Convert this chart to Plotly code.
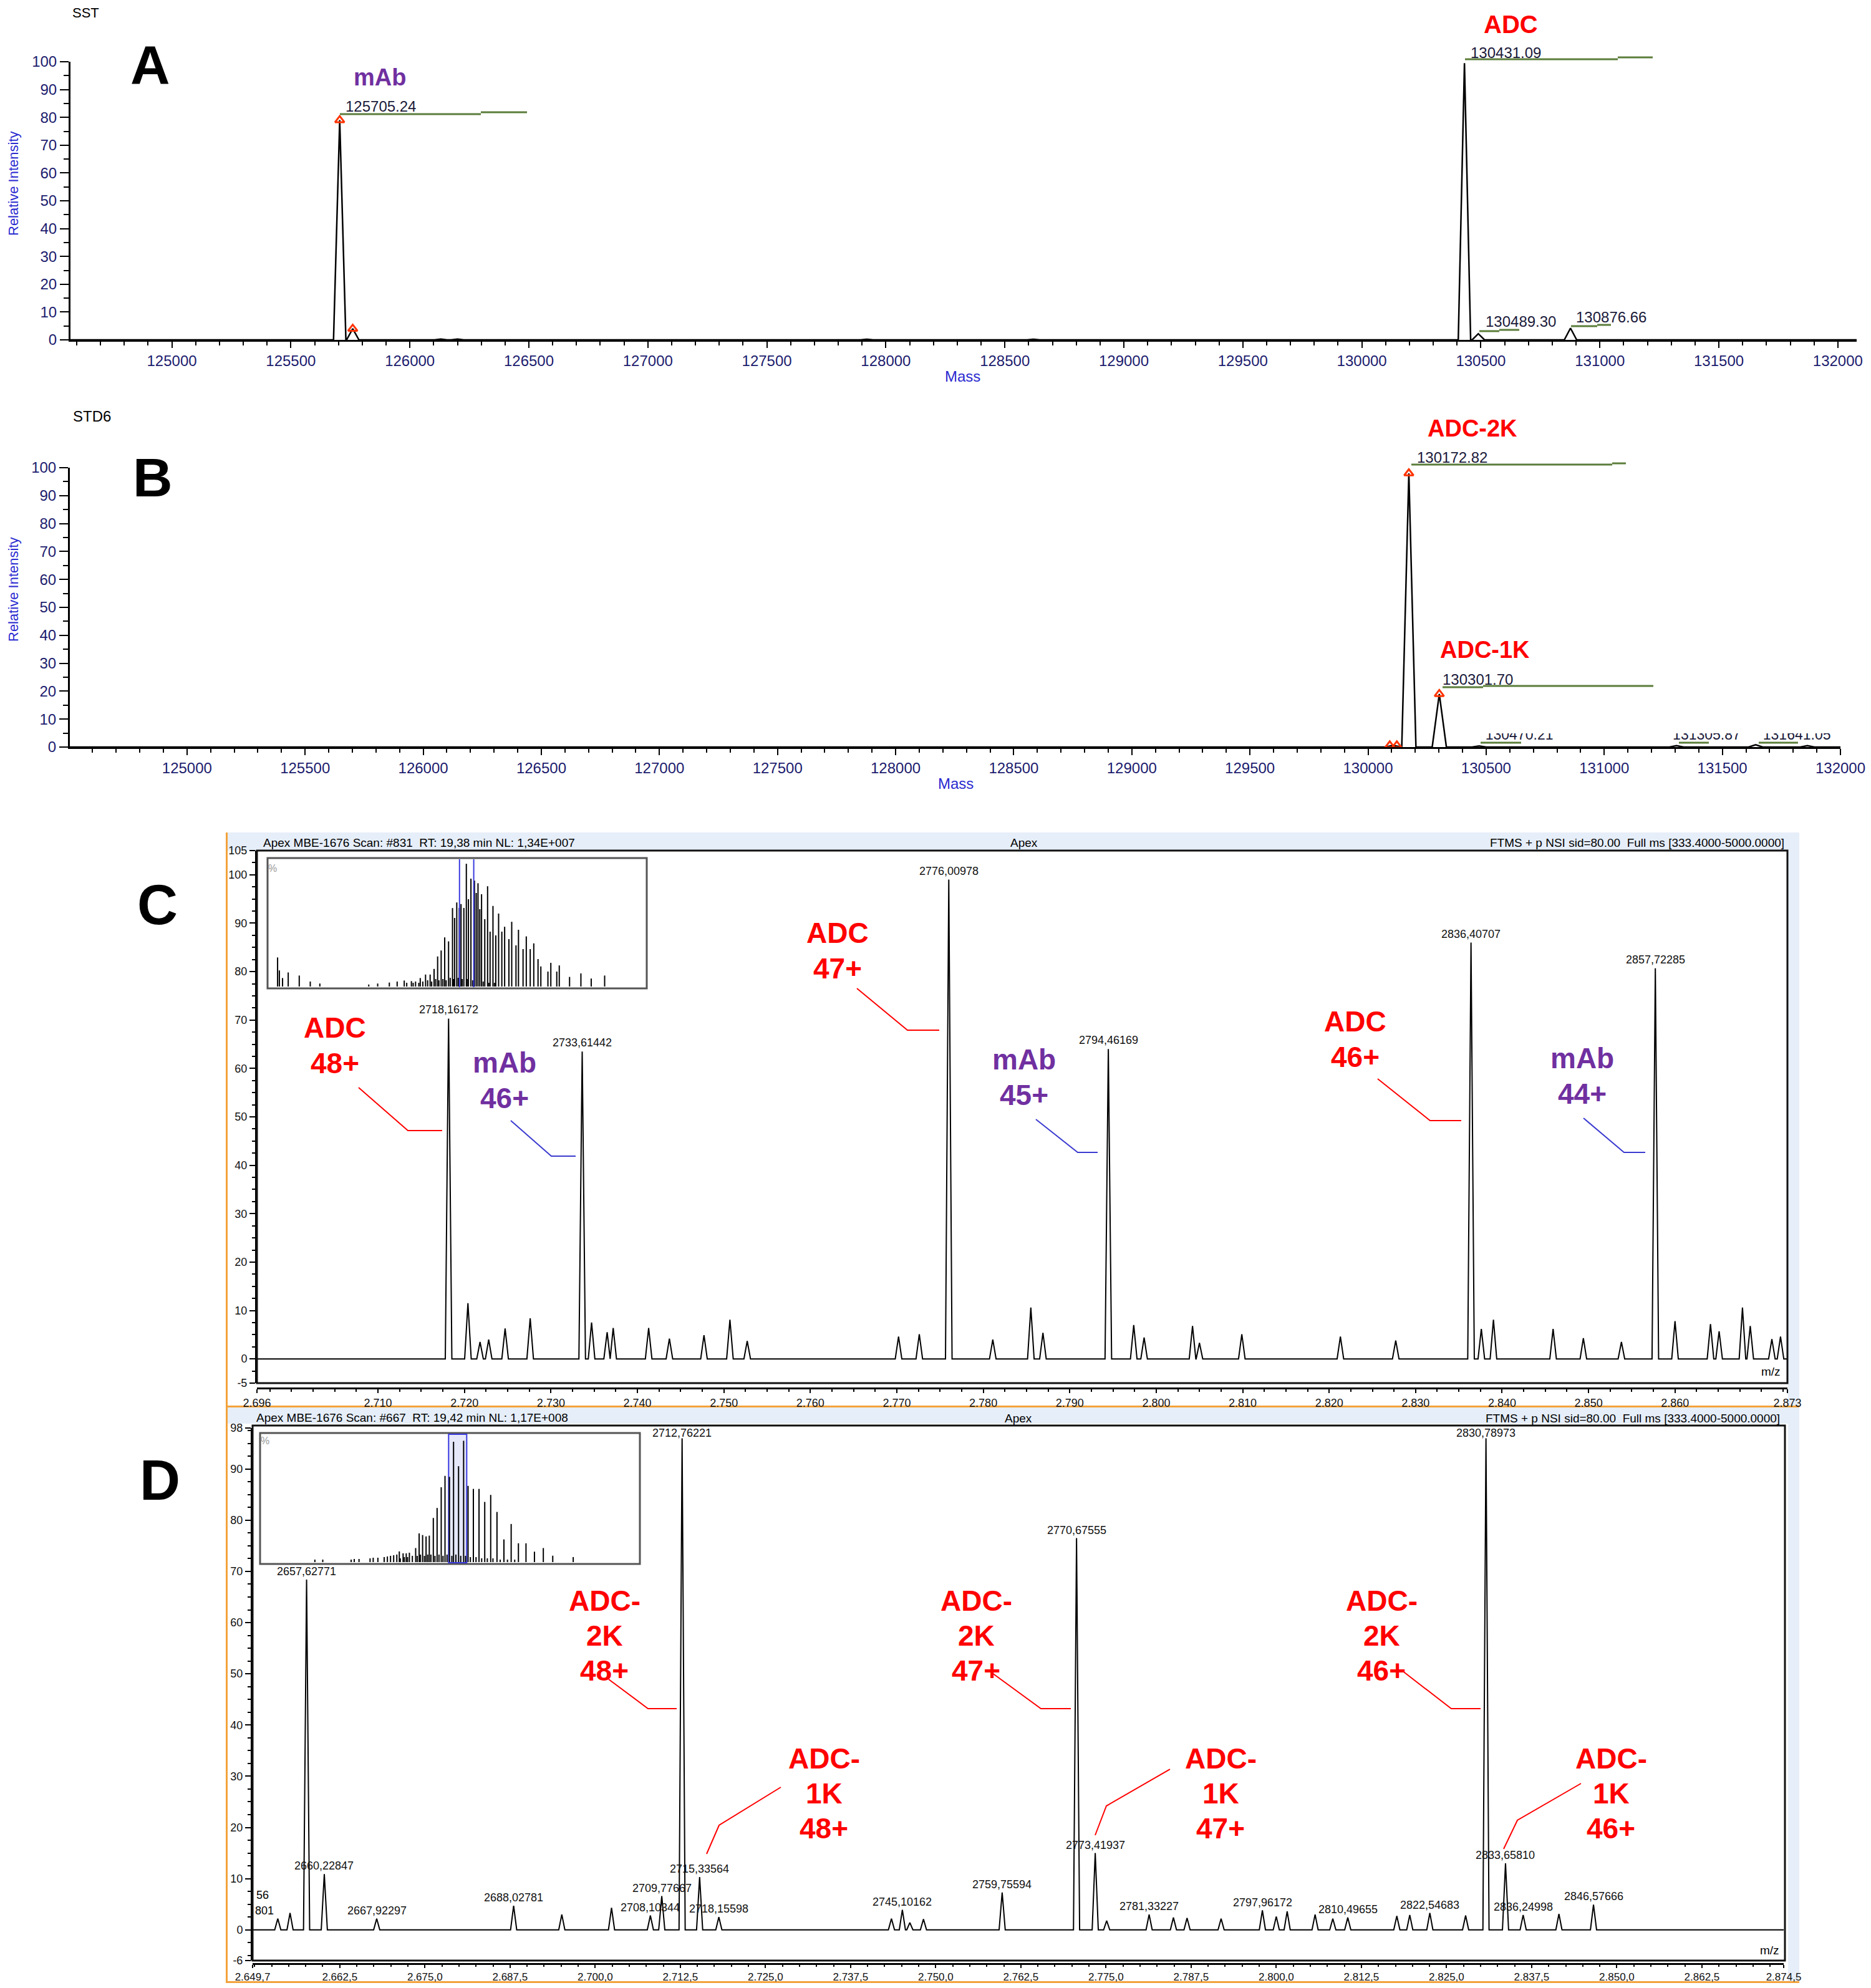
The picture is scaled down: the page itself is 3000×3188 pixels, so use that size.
import plotly.graph_objects as go

# The page places the figure 8 px from the top-left corner; the figure is sized
# so that the page does not overflow the window, and positions are given in window pixels.
OFF = 8
W, H = 3000 - 2 * OFF, 3188 - 2 * OFF
def px(x): return (x - OFF) / W
def py(y): return 1 - (y - OFF) / H

SANS = "Liberation Sans, Arial, sans-serif"
NARROW = "Liberation Sans Narrow, Arial Narrow, Liberation Sans, sans-serif"
NAVY = "#1c1c6e"
BLUE = "#2a2ad0"
RED = "#ff0000"
PURPLE = "#7030a0"
GREEN = "#5b7d3a"

# ---------------- Panel A (SST, deconvoluted) ----------------
a_mass = [125705.24, 125760.0, 126130.0, 126200.0, 127920.0, 128620.0, 130431.09, 130489.30, 130876.66]
a_int = [79.0, 4.0, 0.3, 0.3, 0.2, 0.2, 99.5, 2.2, 4.2]
a_marker_mass = [125705.24, 125760.0]
a_marker_int = [79.0, 4.0]
a_label_text = ["125705.24", "130431.09", "130489.30", "130876.66"]

# ---------------- Panel B (STD6, deconvoluted) ----------------
b_mass = [130105.0, 130172.82, 130301.70, 130470.21, 131305.87, 131641.05, 131860.0]
b_int = [0.6, 98.0, 19.0, 0.4, 0.5, 0.8, 0.5]
b_marker_mass = [130092.0, 130122.0, 130172.82, 130301.70]
b_marker_int = [0.6, 0.6, 98.0, 19.0]
b_label_text = ["130172.82", "130301.70"]
b_cut_label_text = ["130470.21", "131305.87", "131641.05"]
b_cut_label_mass = [130497.0, 131290.0, 131672.0]
ab_tickvals = list(range(125000, 132001, 500))

# ---------------- Panel C (raw m/z, SST) ----------------
c_lab_mz = [2718.16172, 2733.61442, 2776.00978, 2794.46169, 2836.40707, 2857.72285]
c_lab_int = [70.3, 63.5, 99.0, 64.0, 86.0, 80.7]
c_lab_text = ["2718,16172", "2733,61442", "2776,00978", "2794,46169", "2836,40707", "2857,72285"]
c_oth_mz = [2720.4, 2721.8, 2722.8, 2724.7, 2727.6, 2734.7, 2736.5, 2737.2, 2741.3, 2743.7,
            2747.7, 2750.7, 2752.7, 2770.2, 2772.6, 2781.1, 2785.5, 2786.9, 2797.4, 2798.6,
            2804.2, 2805.0, 2809.9, 2821.3, 2827.7, 2837.6, 2839.0, 2845.9, 2849.4, 2853.8,
            2860.0, 2864.1, 2865.1, 2867.8, 2868.7, 2871.2, 2872.2]
c_oth_int = [11.5, 3.5, 4.0, 6.3, 8.4, 7.5, 5.5, 6.4, 6.4, 4.2,
             4.9, 8.1, 3.7, 4.6, 5.1, 4.0, 10.6, 5.4, 7.0, 4.4,
             6.8, 3.3, 5.1, 4.6, 3.8, 6.2, 8.1, 6.2, 4.3, 3.5,
             7.8, 7.2, 5.7, 10.6, 6.8, 4.1, 4.6]
c_x_tickvals = [2696, 2710, 2720, 2730, 2740, 2750, 2760, 2770, 2780, 2790, 2800, 2810,
                2820, 2830, 2840, 2850, 2860, 2873]
c_x_ticktext = ["2.696", "2.710", "2.720", "2.730", "2.740", "2.750", "2.760", "2.770", "2.780",
                "2.790", "2.800", "2.810", "2.820", "2.830", "2.840", "2.850", "2.860", "2.873"]
c_y_tickvals = [-5, 0, 10, 20, 30, 40, 50, 60, 70, 80, 90, 100, 105]
c_y_ticktext = ["-5", "0", "10", "20", "30", "40", "50", "60", "70", "80", "90", "100", "105"]

inset_c_mz = [434.8, 456.9, 496.6, 567, 704, 841, 960, 1568, 1679, 1824, 1921, 2009, 2098, 2208,
              2274, 2331, 2380, 2424, 2468, 2512, 2560, 2609, 2635, 2662, 2693, 2715, 2750, 2781,
              2807, 2838, 2882, 2904, 2926, 2948, 2970, 3010, 3045, 3076, 3112, 3147, 3182, 3222,
              3257, 3310, 3345, 3398, 3429, 3486, 3526, 3575, 3619, 3672, 3707, 3795, 3831, 3905,
              3936, 4064, 4205, 4333, 4500]
inset_c_int = [23.3, 12.9, 6.8, 11.3, 8.8, 4.0, 2.4, 1.6, 2.4, 3.2, 4.0, 4.8, 4.3, 6.8,
               9.6, 9.6, 14.1, 24.1, 28.9, 39.4, 36.2, 62.9, 55, 67.4, 63, 66.1, 63, 98.4,
               70, 86.5, 84.9, 75, 82.8, 62, 74, 54, 80.4, 44, 64.6, 41, 58.5, 44,
               47.9, 38, 51.9, 33, 45.5, 30, 40.2, 30, 34.6, 22, 16.1, 12, 19.0, 12,
               16.9, 7.7, 10.5, 6.4, 8.8]
inset_c_low_mz = [2040, 2120, 2150, 2190, 2240, 2300, 2350, 2400, 2440, 2490, 2530, 2580, 2620,
                  2680, 2730, 2790, 2860, 2990, 3060, 3130]
inset_c_low_int = [3, 3, 4, 3, 4, 5, 4, 6, 5, 6, 5, 7, 6, 7, 6, 6, 5, 4, 3, 3]

# ---------------- Panel D (raw m/z, STD6) ----------------
d_lab_mz = [2657.62771, 2660.22847, 2667.92297, 2688.02781, 2708.10344, 2709.77667, 2712.76221,
            2715.33564, 2718.15598, 2745.10162, 2759.75594, 2770.67555, 2773.41937, 2781.33227,
            2797.96172, 2810.49655, 2822.54683, 2830.78973, 2833.65810, 2836.24998, 2846.57666]
d_lab_int = [68.4, 10.9, 2.2, 4.7, 2.8, 6.6, 96.0, 10.3, 2.5, 3.9, 7.3, 76.5, 15.0, 3.0,
             3.8, 2.4, 3.3, 96.0, 13.0, 2.9, 4.9]
d_lab_text = ["2657,62771", "2660,22847", "2667,92297", "2688,02781", "2708,10344", "2709,77667",
              "2712,76221", "2715,33564", "2718,15598", "2745,10162", "2759,75594", "2770,67555",
              "2773,41937", "2781,33227", "2797,96172", "2810,49655", "2822,54683", "2830,78973",
              "2833,65810", "2836,24998", "2846,57666"]
d_oth_mz = [2653.4, 2655.2, 2695.1, 2702.4, 2743.5, 2746.2, 2748.2, 2775.1, 2784.9, 2786.9,
            2791.9, 2800.0, 2801.6, 2805.7, 2808.3, 2817.7, 2819.6, 2827.8, 2841.5]
d_oth_int = [2.2, 3.3, 3.0, 4.3, 2.2, 1.4, 2.1, 1.8, 2.4, 2.3,
             2.2, 2.6, 3.6, 3.0, 2.2, 2.7, 2.9, 2.8, 3.1]
d_x_tickvals = [2649.7, 2662.5, 2675.0, 2687.5, 2700.0, 2712.5, 2725.0, 2737.5, 2750.0, 2762.5,
                2775.0, 2787.5, 2800.0, 2812.5, 2825.0, 2837.5, 2850.0, 2862.5, 2874.5]
d_x_ticktext = ["2.649,7", "2.662,5", "2.675,0", "2.687,5", "2.700,0", "2.712,5", "2.725,0",
                "2.737,5", "2.750,0", "2.762,5", "2.775,0", "2.787,5", "2.800,0", "2.812,5",
                "2.825,0", "2.837,5", "2.850,0", "2.862,5", "2.874,5"]
d_y_tickvals = [-6, 0, 10, 20, 30, 40, 50, 60, 70, 80, 90, 98]
d_y_ticktext = ["-6", "0", "10", "20", "30", "40", "50", "60", "70", "80", "90", "98"]

inset_d_mz = [990, 1088, 1440, 1479, 1538, 1675, 1714, 1772, 1850, 1890, 1929, 1968, 2007, 2038,
              2085, 2124, 2163, 2241, 2284, 2327, 2370, 2410, 2460, 2507, 2558, 2605, 2660, 2711,
              2773, 2836, 2891, 2957, 3027, 3098, 3172, 3250, 3336, 3426, 3516, 3610, 3715, 3825,
              3942, 4196]
inset_d_int = [2, 2, 2, 2.5, 2.5, 3, 3.5, 3.5, 4, 4.5, 5, 5.5, 6, 8.5,
               7, 7, 7.5, 11.2, 22.9, 21.6, 20.5, 21.1, 35.2, 43.2, 59.7, 68.8, 68, 96,
               76.5, 96.8, 60.8, 58.4, 58.4, 48, 53.6, 40, 18.1, 30.4, 15, 15, 8.3, 11.2,
               5.1, 4]
inset_d_low_mz = [2050, 2100, 2140, 2200, 2260, 2300, 2350, 2390, 2430, 2480, 2530, 2580, 2630,
                  2690, 2740, 2800, 2860, 2920, 2990, 3060, 3130, 3200, 3290, 3380, 3470]
inset_d_low_int = [3, 4, 4, 5, 5, 6, 5, 6, 6, 5, 6, 5, 6, 5, 6, 5, 5, 4, 4, 3, 3, 3, 2, 2, 2]


def profile(centers, heights, hw, lo, hi):
    pairs = sorted(zip(centers, heights))
    xs, ys = [lo], [0]
    for i, (m, h) in enumerate(pairs):
        left = m - hw
        right = m + hw
        if i > 0:
            left = max(left, (pairs[i - 1][0] + m) / 2)
        if i < len(pairs) - 1:
            right = min(right, (pairs[i + 1][0] + m) / 2)
        xs += [left, m, right]
        ys += [0, h, 0]
    xs.append(hi)
    ys.append(0)
    return xs, ys


def sticks(centers, heights):
    xs, ys = [], []
    for m, h in zip(centers, heights):
        xs += [m, m, None]
        ys += [0, h, None]
    return xs, ys


fig = go.Figure()

# Panel A trace
ax, ay = profile(a_mass, a_int, 26, 124574, 132079)
fig.add_trace(go.Scatter(x=ax, y=ay, mode="lines", line=dict(color="black", width=2.5),
                         xaxis="x", yaxis="y", showlegend=False, hoverinfo="skip"))
fig.add_trace(go.Scatter(x=a_marker_mass, y=a_marker_int, mode="markers",
                         marker=dict(symbol="triangle-up-open", color="#ff3300", size=13,
                                     line=dict(width=3, color="#ff3300")),
                         xaxis="x", yaxis="y", showlegend=False, hoverinfo="skip"))
# Panel B trace
bx, by = profile(b_mass, b_int, 30, 124504, 132000)
fig.add_trace(go.Scatter(x=bx, y=by, mode="lines", line=dict(color="black", width=2.5),
                         xaxis="x2", yaxis="y2", showlegend=False, hoverinfo="skip"))
fig.add_trace(go.Scatter(x=b_marker_mass, y=b_marker_int, mode="markers",
                         marker=dict(symbol="triangle-up-open", color="#ff3300", size=13,
                                     line=dict(width=3, color="#ff3300")),
                         xaxis="x2", yaxis="y2", showlegend=False, hoverinfo="skip"))
fig.add_trace(go.Scatter(x=b_cut_label_mass, y=[3.9] * len(b_cut_label_mass), mode="text",
                         text=b_cut_label_text, textposition="middle right",
                         textfont=dict(family=SANS, size=23, color="#1a1a3a"),
                         xaxis="x2", yaxis="y2", showlegend=False, hoverinfo="skip"))
# Panel C trace
cx, cy = profile(c_lab_mz + c_oth_mz, c_lab_int + c_oth_int, 0.38, 2696, 2873)
fig.add_trace(go.Scatter(x=cx, y=cy, mode="lines", line=dict(color="black", width=2),
                         xaxis="x3", yaxis="y3", showlegend=False, hoverinfo="skip"))
# Panel D trace
dx, dy = profile(d_lab_mz + d_oth_mz, d_lab_int + d_oth_int, 0.45, 2649.7, 2874.5)
fig.add_trace(go.Scatter(x=dx, y=dy, mode="lines", line=dict(color="black", width=2),
                         xaxis="x4", yaxis="y4", showlegend=False, hoverinfo="skip"))
# Insets
icx, icy = sticks(inset_c_mz + inset_c_low_mz, inset_c_int + inset_c_low_int)
fig.add_trace(go.Scatter(x=icx, y=icy, mode="lines", line=dict(color="black", width=2),
                         xaxis="x5", yaxis="y5", showlegend=False, hoverinfo="skip"))
idx_, idy = sticks(inset_d_mz + inset_d_low_mz, inset_d_int + inset_d_low_int)
fig.add_trace(go.Scatter(x=idx_, y=idy, mode="lines", line=dict(color="black", width=2),
                         xaxis="x6", yaxis="y6", showlegend=False, hoverinfo="skip"))

shapes = []
annotations = []


def rect(x0, y0, x1, y1, fill=None, line_color=None, lw=0, layer="below"):
    shapes.append(dict(type="rect", xref="paper", yref="paper", x0=px(x0), x1=px(x1),
                       y0=py(y1), y1=py(y0), fillcolor=fill or "rgba(0,0,0,0)",
                       line=dict(color=line_color or "rgba(0,0,0,0)", width=lw), layer=layer))


def path(points, color, width=2):
    d = "M " + " L ".join(f"{px(x):.5f},{py(y):.5f}" for x, y in points)
    shapes.append(dict(type="path", xref="paper", yref="paper", path=d,
                       line=dict(color=color, width=width), layer="above"))


def text(t, x, y, size, color="black", family=SANS, xanchor="center", yanchor="middle", angle=0):
    annotations.append(dict(text=t, x=px(x), y=py(y), xref="paper", yref="paper", showarrow=False,
                            font=dict(size=size, color=color, family=family),
                            xanchor=xanchor, yanchor=yanchor, textangle=angle))


# --- Panel C / D frames ---
for top, bot, band in [(1335, 2257, 1364), (2257, 3180, 2283)]:
    rect(362, top, 2885, bot, fill="#e6eef9")
    rect(365, band, 2867, bot - 3, fill="white")
    rect(362, top, 365, bot, fill="#f3a23a")
    rect(362, bot - 3, 2885, bot, fill="#f3a23a")
rect(412, 1364, 2866, 2218, line_color="#111", lw=3, layer="above")
rect(405, 2286, 2862, 3144, line_color="#111", lw=3, layer="above")

# insets
rect(429, 1376, 1037, 1585, fill="white", line_color="#555", lw=3, layer="below")
rect(417, 2298, 1026, 2508, fill="white", line_color="#555", lw=3, layer="below")
for v in [2696, 2873]:
    shapes.append(dict(type="line", xref="x5", yref="paper", x0=v, x1=v, y0=py(1583), y1=py(1378),
                       line=dict(color="#3a3ae0", width=2), layer="above"))
shapes.append(dict(type="rect", xref="x6", yref="paper", x0=2649.7, x1=2874.5, y0=py(2506), y1=py(2300),
                   fillcolor="rgba(200,205,245,0.45)", line=dict(color="#3a3ae0", width=2), layer="below"))
text("%", 437, 1393, 16, color="#999")
text("%", 425, 2310, 16, color="#999")

# --- Panel A decorations ---
text("SST", 137, 21, 22)
text("<b>A</b>", 241, 104, 88)
text("Relative Intensity", 22, 294, 22, color=BLUE, angle=-90)
text("Mass", 1543, 604, 24, color=BLUE)
text("<b>mAb</b>", 609, 124, 38, color=PURPLE)
text("<b>ADC</b>", 2422, 39, 40, color=RED)
path([(545, 183), (771, 183)], GREEN, 3)
path([(771, 180), (845, 180)], GREEN, 3)
path([(2349, 95), (2594, 95)], GREEN, 3)
path([(2594, 92), (2650, 92)], GREEN, 3)
path([(2372, 531), (2404, 531)], GREEN, 3)
path([(2404, 529), (2436, 529)], GREEN, 3)
path([(2519, 523), (2561, 523)], GREEN, 3)
path([(2561, 521), (2583, 521)], GREEN, 3)
a_label_pos = [(552, 170), (2356, 84), (2380, 516), (2525, 508)]
for t, (x, y) in zip(a_label_text, a_label_pos):
    text(t, x, y, 24, color="#1a1a3a", xanchor="left")

# --- Panel B decorations ---
text("STD6", 147, 667, 24)
text("<b>B</b>", 245, 766, 88)
text("Relative Intensity", 22, 945, 22, color=BLUE, angle=-90)
text("Mass", 1532, 1256, 24, color=BLUE)
text("<b>ADC-2K</b>", 2361, 687, 38, color=RED)
text("<b>ADC-1K</b>", 2381, 1042, 38, color=RED)
path([(2263, 745), (2585, 745)], GREEN, 3)
path([(2585, 743), (2607, 743)], GREEN, 3)
path([(2313, 1102), (2378, 1102)], GREEN, 3)
path([(2378, 1100), (2651, 1100)], GREEN, 3)
path([(2374, 1191), (2439, 1191)], GREEN, 3)
path([(2692, 1191), (2740, 1191)], GREEN, 3)
path([(2820, 1191), (2883, 1191)], GREEN, 3)
b_label_pos = [(2270, 733), (2311, 1089)]
for t, (x, y) in zip(b_label_text, b_label_pos):
    text(t, x, y, 24, color="#1a1a3a", xanchor="left")
for x0, x1 in [(2380, 2515), (2680, 2810), (2825, 2960)]:
    rect(x0, 1155, x1, 1176, fill="white", layer="above")

# --- Panel C decorations ---
text("<b>C</b>", 252, 1451, 90)
text("Apex MBE-1676 Scan: #831\u00a0 RT: 19,38 min NL: 1,34E+007", 420, 1351, 19, family=NARROW, xanchor="left")
text("Apex", 1642, 1351, 19, family=NARROW)
text("FTMS + p NSI sid=80.00\u00a0 Full ms [333.4000-5000.0000]", 2863, 1351, 19, family=NARROW, xanchor="right")
text("m/z", 2839, 2199, 19, family=NARROW)
c_big = [("ADC", "48+", 537, 1648, RED), ("mAb", "46+", 809, 1704, PURPLE),
         ("ADC", "47+", 1343, 1496, RED), ("mAb", "45+", 1642, 1699, PURPLE),
         ("ADC", "46+", 2173, 1638, RED), ("mAb", "44+", 2537, 1697, PURPLE)]
for l1, l2, x, y, col in c_big:
    text(f"<b>{l1}</b>", x, y, 46, color=col)
    text(f"<b>{l2}</b>", x, y + 57, 46, color=col)
path([(575, 1744), (654, 1813), (709, 1813)], RED)
path([(819, 1797), (884, 1854), (923, 1854)], "#3a3ad0")
path([(1374, 1585), (1455, 1652), (1506, 1652)], RED)
path([(1661, 1795), (1728, 1848), (1760, 1848)], "#3a3ad0")
path([(2209, 1730), (2293, 1797), (2343, 1797)], RED)
path([(2539, 1793), (2604, 1848), (2638, 1848)], "#3a3ad0")
for m, h, t in zip(c_lab_mz, c_lab_int, c_lab_text):
    annotations.append(dict(text=t, x=m, y=h, xref="x3", yref="y3", showarrow=False, yanchor="bottom",
                            yshift=2, font=dict(size=18, family=NARROW, color="#111")))

# --- Panel D decorations ---
text("<b>D</b>", 256, 2374, 90)
text("Apex MBE-1676 Scan: #667\u00a0 RT: 19,42 min NL: 1,17E+008", 409, 2273, 19, family=NARROW, xanchor="left")
text("Apex", 1633, 2274, 19, family=NARROW)
text("FTMS + p NSI sid=80.00\u00a0 Full ms [333.4000-5000.0000]", 2856, 2274, 19, family=NARROW, xanchor="right")
text("m/z", 2837, 3127, 19, family=NARROW)
d_big = [("ADC-", "2K", "48+", 969, 2567), ("ADC-", "2K", "47+", 1565, 2567),
         ("ADC-", "2K", "46+", 2215, 2567), ("ADC-", "1K", "48+", 1321, 2820),
         ("ADC-", "1K", "47+", 1957, 2820), ("ADC-", "1K", "46+", 2583, 2820)]
for l1, l2, l3, x, y in d_big:
    text(f"<b>{l1}</b>", x, y, 46, color=RED)
    text(f"<b>{l2}</b>", x, y + 56, 46, color=RED)
    text(f"<b>{l3}</b>", x, y + 112, 46, color=RED)
path([(976, 2693), (1039, 2740), (1085, 2740)], RED)
path([(1591, 2683), (1669, 2740), (1717, 2740)], RED)
path([(2248, 2679), (2327, 2740), (2374, 2740)], RED)
path([(1252, 2866), (1153, 2927), (1133, 2973)], RED)
path([(1876, 2837), (1774, 2896), (1756, 2943)], RED)
path([(2535, 2860), (2433, 2919), (2411, 2965)], RED)
for m, h, t in zip(d_lab_mz, d_lab_int, d_lab_text):
    # labels of the tallest peaks sit just inside the top of the frame
    annotations.append(dict(text=t, x=m, y=min(h, 95.4), xref="x4", yref="y4", showarrow=False,
                            yanchor="bottom", yshift=1, font=dict(size=18, family=NARROW, color="#111")))
text("56", 409, 3039, 18, family=NARROW, xanchor="left")
text("801", 407, 3064, 18, family=NARROW, xanchor="left")

common_line = dict(showline=True, linecolor="black", showgrid=False, zeroline=False, ticks="outside",
                   tickcolor="black", automargin=False, ticklabeloverflow="allow")

layout = dict(
    template="none",
    width=W, height=H, margin=dict(l=0, r=0, t=0, b=0, autoexpand=False),
    paper_bgcolor="white", plot_bgcolor="rgba(0,0,0,0)", showlegend=False,
    xaxis=dict(domain=[px(113), px(2977)], range=[124574, 132079], anchor="y", tickvals=ab_tickvals,
               tickformat="d", ticklen=10, tickwidth=2, linewidth=3,
               tickfont=dict(size=24, color=NAVY, family=SANS),
               minor=dict(dtick=100, tick0=125000, ticklen=6, tickwidth=2, ticks="outside", tickcolor="black"),
               **common_line),
    yaxis=dict(domain=[py(545), py(99)], range=[0, 100], anchor="x", dtick=10, ticklen=14, tickwidth=2,
               linewidth=3, tickfont=dict(size=24, color=NAVY, family=SANS),
               minor=dict(dtick=5, ticklen=8, tickwidth=2, ticks="outside", tickcolor="black"),
               **common_line),
    xaxis2=dict(domain=[px(112), px(2951)], range=[124504, 132000], anchor="y2", tickvals=ab_tickvals,
                tickformat="d", ticklen=10, tickwidth=2, linewidth=3,
                tickfont=dict(size=24, color=NAVY, family=SANS),
                minor=dict(dtick=100, tick0=125000, ticklen=6, tickwidth=2, ticks="outside", tickcolor="black"),
                **common_line),
    yaxis2=dict(domain=[py(1198), py(750)], range=[0, 100], anchor="x2", dtick=10, ticklen=14, tickwidth=2,
                linewidth=3, tickfont=dict(size=24, color=NAVY, family=SANS),
                minor=dict(dtick=5, ticklen=8, tickwidth=2, ticks="outside", tickcolor="black"),
                **common_line),
    xaxis3=dict(domain=[px(412), px(2866)], range=[2696, 2873], anchor="free", position=py(2226),
                tickvals=c_x_tickvals, ticktext=c_x_ticktext, ticklen=6, tickwidth=2, linewidth=3,
                tickfont=dict(size=18, color="#111", family=NARROW),
                minor=dict(dtick=2.5, tick0=2700, ticklen=4, tickwidth=2, ticks="outside", tickcolor="black"),
                **common_line),
    yaxis3=dict(domain=[py(2218), py(1364)], range=[-5, 105], anchor="x3", tickvals=c_y_tickvals,
                ticktext=c_y_ticktext,
                ticklen=9, tickwidth=2, linewidth=3, tickfont=dict(size=18, color="#111", family=NARROW),
                minor=dict(dtick=2.5, tick0=0, ticklen=5, tickwidth=2, ticks="outside", tickcolor="black"),
                **common_line),
    xaxis4=dict(domain=[px(405), px(2860)], range=[2649.7, 2874.5], anchor="free", position=py(3149),
                tickvals=d_x_tickvals, ticktext=d_x_ticktext, ticklen=5, tickwidth=2, linewidth=3,
                tickfont=dict(size=17, color="#111", family=NARROW),
                minor=dict(dtick=2.5, tick0=2650, ticklen=3, tickwidth=2, ticks="outside", tickcolor="black"),
                **common_line),
    yaxis4=dict(domain=[py(3144), py(2290)], range=[-6, 98], anchor="x4", tickvals=d_y_tickvals,
                ticktext=d_y_ticktext,
                ticklen=9, tickwidth=2, linewidth=3, tickfont=dict(size=18, color="#111", family=NARROW),
                minor=dict(dtick=2.5, tick0=0, ticklen=5, tickwidth=2, ticks="outside", tickcolor="black"),
                **common_line),
    xaxis5=dict(domain=[px(432), px(1034)], range=[333.4, 5000], anchor="y5", visible=False, automargin=False),
    yaxis5=dict(domain=[py(1582), py(1380)], range=[0, 101], anchor="x5", visible=False, automargin=False),
    xaxis6=dict(domain=[px(420), px(1023)], range=[333.4, 5000], anchor="y6", visible=False, automargin=False),
    yaxis6=dict(domain=[py(2505), py(2302)], range=[0, 101], anchor="x6", visible=False, automargin=False),
    shapes=shapes,
    annotations=annotations,
)
fig.update_layout(**layout)
fig.write_html("out.html")
